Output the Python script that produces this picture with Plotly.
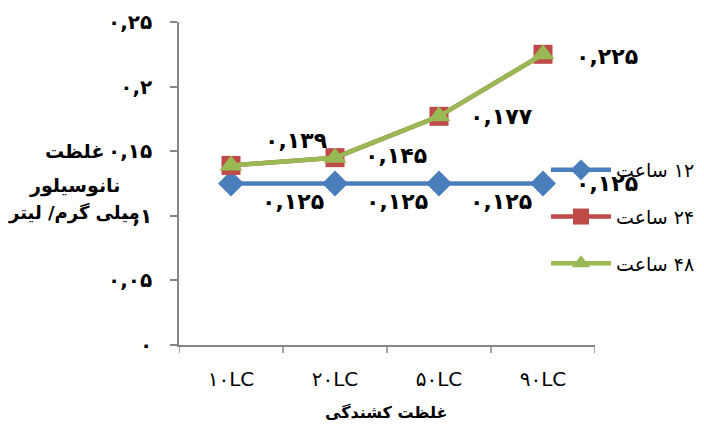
import plotly.graph_objects as go

categories = ["۱۰LC", "۲۰LC", "۵۰LC", "۹۰LC"]
series_names = ["ساعت\u200e ۱۲", "ساعت\u200e ۲۴", "ساعت\u200e ۴۸"]
values_12 = [0.125, 0.125, 0.125, 0.125]
values_24 = [0.139, 0.145, 0.177, 0.225]
values_48 = [0.139, 0.145, 0.177, 0.225]
y_tickvals = [0, 0.05, 0.1, 0.15, 0.2, 0.25]
y_ticktext = ["۰", "۰,۰۵", "۰,۱", "۰,۱۵", "۰,۲", "۰,۲۵"]
x_title = "غلظت کشندگی"
y_title_lines = ["غلظت", "نانوسیلور", "میلی گرم/ لیتر"]

PERSIAN = str.maketrans("0123456789", "۰۱۲۳۴۵۶۷۸۹")


def fa(v):
    return ("%g" % v).replace(".", ",").translate(PERSIAN)


# plot area in screen pixels (page has an 8px body margin)
OFF = 8
L, R, T, B = 179, 595, 22, 345


def px(sx):
    return (sx - L) / (R - L)


def py(sy):
    return (B - sy) / (B - T)


xs = list(range(len(categories)))
blue, red, green = "#4A7EBB", "#BE4B48", "#98B954"
digit_font = dict(family="DejaVu Sans", size=22, color="black", weight="bold")

fig = go.Figure()
fig.add_trace(go.Scatter(x=xs, y=values_12, name=series_names[0], mode="lines+markers",
                         line=dict(color=blue, width=4.5),
                         marker=dict(symbol="diamond", size=20, color=blue),
                         legendgroup="a"))
fig.add_trace(go.Scatter(x=xs, y=values_24, name=series_names[1], mode="lines+markers",
                         line=dict(color=red, width=4.5),
                         marker=dict(symbol="square", size=19, color=red),
                         legendgroup="b"))
fig.add_trace(go.Scatter(x=xs, y=values_48, name=series_names[2], mode="lines+markers",
                         line=dict(color=green, width=4.5),
                         marker=dict(symbol="triangle-up", size=20, color=green),
                         legendgroup="c"))

# data labels
shifts_12 = [(29, -18), (29, -18), (29, -18), (31, 0)]
shifts_24 = [(32, 25), (28, 2), (29, 0), (31, -2)]
for i, v in enumerate(values_12):
    fig.add_annotation(x=xs[i], y=v, text=fa(v), showarrow=False, xanchor="left",
                       yanchor="middle", xshift=shifts_12[i][0], yshift=shifts_12[i][1],
                       font=digit_font)
for i, v in enumerate(values_24):
    fig.add_annotation(x=xs[i], y=v, text=fa(v), showarrow=False, xanchor="left",
                       yanchor="middle", xshift=shifts_24[i][0], yshift=shifts_24[i][1],
                       font=digit_font)

# axis titles
fig.add_annotation(xref="paper", yref="paper", x=px(386), y=py(412),
                   xanchor="center", yanchor="middle",
                   text="<b>%s</b>" % x_title, showarrow=False,
                   font=dict(family="DejaVu Sans", size=16, color="black"))
for line, sy, fs in zip(y_title_lines, [151, 185, 213], [19, 19, 18]):
    fig.add_annotation(xref="paper", yref="paper", x=px(74), y=py(sy),
                       xanchor="center", yanchor="middle",
                       text="<b>%s</b>" % line, showarrow=False,
                       font=dict(family="DejaVu Sans", size=fs, color="black"))

axis_color = "#868686"
fig.update_xaxes(range=[-0.5, len(categories) - 0.5], tickvals=xs, ticktext=categories,
                 showline=True, linecolor=axis_color, linewidth=1.5, showgrid=False,
                 zeroline=False, ticks="", ticklabelstandoff=15, automargin=False,
                 tickfont=dict(family="DejaVu Sans", size=20, color="black"))
fig.update_yaxes(range=[0, 0.25], tickvals=y_tickvals, ticktext=y_ticktext,
                 showline=True, linecolor=axis_color, linewidth=1.5, showgrid=False,
                 zeroline=False, ticks="outside", ticklen=7, tickcolor=axis_color, tickwidth=1.5,
                 ticklabelstandoff=14, automargin=False,
                 tickfont=dict(family="DejaVu Sans", size=20, color="black", weight="bold"))

# category boundary tick marks on x axis
for b in [i - 0.5 for i in range(len(categories) + 1)]:
    fig.add_shape(type="line", xref="x", yref="paper", x0=b, x1=b, y0=0, y1=-8 / (B - T),
                  line=dict(color=axis_color, width=1.5))

fig.update_layout(
    width=704 - OFF, height=430 - OFF,
    margin=dict(l=L - OFF, r=(704 - OFF) - (R - OFF), t=T - OFF, b=(430 - OFF) - (B - OFF),
                autoexpand=False),
    paper_bgcolor="white", plot_bgcolor="white",
    showlegend=True,
    legend=dict(x=px(546), xanchor="left", y=py(151), yanchor="top", itemwidth=60,
                traceorder="grouped", tracegroupgap=19, bgcolor="rgba(0,0,0,0)",
                font=dict(family="DejaVu Sans", size=19, color="black")),
)

fig.write_html("out.html")
